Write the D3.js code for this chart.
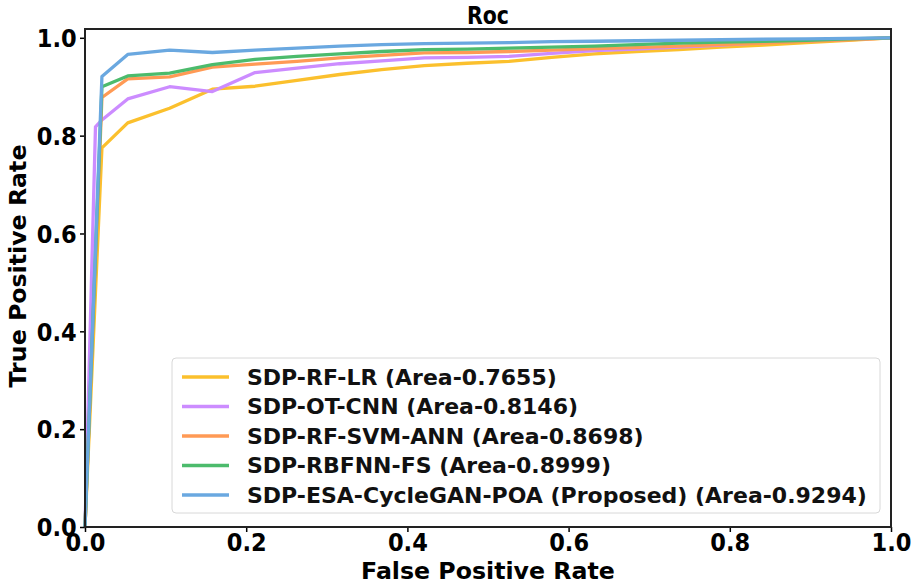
<!DOCTYPE html>
<html>
<head>
<meta charset="utf-8">
<script src="https://cdn.jsdelivr.net/npm/d3@7"></script>
<style>
  html, body { margin: 0; padding: 0; background: #fff; }
  svg { display: block; }
</style>
</head>
<body>
<svg id="chart" width="921" height="584"></svg>
<script>
// ROC curves: false positive rate grid and true positive rates per model
const fprGrid = [0, 0.021, 0.053, 0.105, 0.158, 0.211, 0.263, 0.316, 0.368, 0.421, 0.474,
                 0.526, 0.579, 0.632, 0.684, 0.737, 0.789, 0.842, 0.895, 0.947, 1.0];
const fprOtCnn = [0, 0.013, 0.021, 0.053, 0.105, 0.158, 0.211, 0.263, 0.316, 0.368, 0.421, 0.474,
                  0.526, 0.579, 0.632, 0.684, 0.737, 0.789, 0.842, 0.895, 0.947, 1.0];

const tprRfLr     = [0, 0.775, 0.826, 0.856, 0.895, 0.901, 0.913, 0.925, 0.935, 0.943, 0.948,
                     0.952, 0.960, 0.967, 0.972, 0.976, 0.981, 0.985, 0.990, 0.995, 1.0];
const tprOtCnn    = [0, 0.818, 0.832, 0.875, 0.900, 0.890, 0.929, 0.938, 0.947, 0.953, 0.959, 0.960,
                     0.962, 0.968, 0.974, 0.977, 0.981, 0.985, 0.990, 0.994, 0.997, 1.0];
const tprRfSvmAnn = [0, 0.878, 0.916, 0.920, 0.940, 0.946, 0.952, 0.959, 0.964, 0.969, 0.970,
                     0.972, 0.975, 0.978, 0.980, 0.983, 0.986, 0.989, 0.993, 0.996, 1.0];
const tprRbfnnFs  = [0, 0.900, 0.922, 0.928, 0.945, 0.956, 0.962, 0.967, 0.972, 0.976, 0.977,
                     0.979, 0.981, 0.983, 0.986, 0.989, 0.991, 0.993, 0.995, 0.998, 1.0];
const tprProposed = [0, 0.921, 0.966, 0.975, 0.970, 0.975, 0.979, 0.983, 0.986, 0.988, 0.989,
                     0.990, 0.992, 0.993, 0.994, 0.995, 0.996, 0.997, 0.998, 0.999, 1.0];

const seriesNames = [
  "SDP-RF-LR (Area-0.7655)",
  "SDP-OT-CNN (Area-0.8146)",
  "SDP-RF-SVM-ANN (Area-0.8698)",
  "SDP-RBFNN-FS (Area-0.8999)",
  "SDP-ESA-CycleGAN-POA (Proposed) (Area-0.9294)"
];
const seriesColors = ["#FBC02D", "#CC8CFF", "#FF9A55", "#4CBB6C", "#6AA8E0"];
const xTicks = [0, 0.2, 0.4, 0.6, 0.8, 1.0];
const yTicks = [0, 0.2, 0.4, 0.6, 0.8, 1.0];

const series = [
  { x: fprGrid,  y: tprRfLr },
  { x: fprOtCnn, y: tprOtCnn },
  { x: fprGrid,  y: tprRfSvmAnn },
  { x: fprGrid,  y: tprRbfnnFs },
  { x: fprGrid,  y: tprProposed }
].map((s, i) => ({
  name: seriesNames[i],
  color: seriesColors[i],
  points: s.x.map((v, j) => [v, s.y[j]])
}));

const svg = d3.select("#chart");
const margin = { left: 85, right: 30, top: 29, bottom: 57 };
const W = 921, H = 584;
const innerW = W - margin.left - margin.right;
const innerH = H - margin.top - margin.bottom;

const x = d3.scaleLinear().domain([0, 1]).range([0, innerW]);
const y = d3.scaleLinear().domain([0, 1.018]).range([innerH, 0]);

const font = "'DejaVu Sans', sans-serif";
const tickSqueeze = 0.9;   // horizontal squeeze for tick lettering

const g = svg.append("g").attr("transform", `translate(${margin.left},${margin.top})`);

// curves
const line = d3.line().x(d => x(d[0])).y(d => y(d[1]));
g.append("g").selectAll("path")
  .data(series)
  .join("path")
  .attr("d", d => line(d.points))
  .attr("fill", "none")
  .attr("stroke", d => d.color)
  .attr("stroke-width", 3.3)
  .attr("stroke-linejoin", "round");

// axes
const xAxis = g.append("g")
  .attr("transform", `translate(0,${innerH})`)
  .call(d3.axisBottom(x).tickValues(xTicks).tickFormat(d3.format(".1f")).tickSizeOuter(0).tickSize(5).tickPadding(2));
const yAxis = g.append("g")
  .call(d3.axisLeft(y).tickValues(yTicks).tickFormat(d3.format(".1f")).tickSizeOuter(0).tickSize(5).tickPadding(4));

[xAxis, yAxis].forEach(a => {
  a.select(".domain").remove();
  a.selectAll(".tick line").attr("stroke", "#000").attr("stroke-width", 1.5);
  a.selectAll(".tick text")
    .attr("font-family", font)
    .attr("font-weight", "bold")
    .attr("font-size", 24.5)
    .attr("fill", "#000");
});
xAxis.selectAll(".tick text").attr("transform", `scale(${tickSqueeze + 0.02},1)`).attr("dy", "0.71em");
yAxis.selectAll(".tick text").attr("transform", `scale(${tickSqueeze + 0.02},1)`).attr("dy", "0.36em");

// frame
g.append("rect")
  .attr("x", 0).attr("y", 0)
  .attr("width", innerW).attr("height", innerH)
  .attr("fill", "none")
  .attr("stroke", "#222")
  .attr("stroke-width", 2);

// title and axis labels
svg.append("g").attr("transform", `translate(${margin.left + innerW / 2},24) scale(0.82,1)`)
  .append("text")
  .attr("text-anchor", "middle")
  .attr("font-family", font).attr("font-weight", "bold").attr("font-size", 25)
  .text("Roc");

svg.append("g").attr("transform", `translate(${margin.left + innerW / 2},579) scale(1.03,1)`)
  .append("text")
  .attr("text-anchor", "middle")
  .attr("font-family", font).attr("font-weight", "bold").attr("font-size", 23)
  .text("False Positive Rate");

svg.append("g").attr("transform", `translate(26,${margin.top + innerH / 2 - 12}) rotate(-90) scale(1.03,1)`)
  .append("text")
  .attr("text-anchor", "middle")
  .attr("font-family", font).attr("font-weight", "bold").attr("font-size", 23)
  .text("True Positive Rate");

// legend
const legend = g.append("g").attr("transform", `translate(${172 - margin.left},${358 - margin.top})`);
legend.append("rect")
  .attr("width", 708).attr("height", 155)
  .attr("rx", 4)
  .attr("fill", "#fff").attr("fill-opacity", 0.85)
  .attr("stroke", "#d8d8d8").attr("stroke-width", 1);
const rows = legend.selectAll("g.row")
  .data(series)
  .join("g")
  .attr("class", "row")
  .attr("transform", (d, i) => `translate(0,${19 + i * 29.5})`);
rows.append("line")
  .attr("x1", 10).attr("x2", 57)
  .attr("stroke", d => d.color).attr("stroke-width", 3.3);
rows.append("text")
  .attr("x", 75).attr("dy", "0.36em")
  .attr("font-family", font).attr("font-weight", "bold").attr("font-size", 22)
  .attr("fill", "#111")
  .text(d => d.name);
</script>
</body>
</html>
